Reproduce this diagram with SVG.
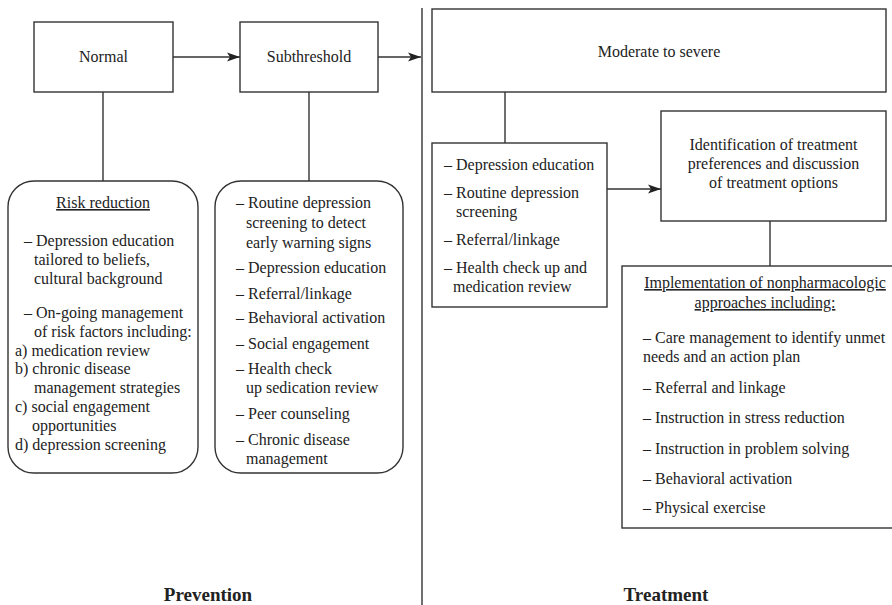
<svg xmlns="http://www.w3.org/2000/svg" width="892" height="605" viewBox="0 0 892 605">
<defs>
<marker id="ah" markerWidth="14" markerHeight="10" refX="13" refY="5" orient="auto" markerUnits="userSpaceOnUse">
<path d="M0,0.5 L13,5 L0,9.5 L3,5 Z" fill="#222"/>
</marker>
<style>
.box{fill:#fff;stroke:#333;stroke-width:1.4}
.ln{stroke:#333;stroke-width:1.4;fill:none}
text{font-family:"Liberation Serif","Times New Roman",serif;font-size:16px;fill:#222}
.c{text-anchor:middle}
.u{text-decoration:underline}
.lab{font-weight:bold;font-size:19px}
</style>
</defs>
<rect width="892" height="605" fill="#fff"/>
<g id="connectors">
<line class="ln" x1="422" y1="8" x2="422" y2="605"/>
<line class="ln" x1="173" y1="57" x2="240" y2="57" marker-end="url(#ah)"/>
<line class="ln" x1="378" y1="57" x2="421" y2="57" marker-end="url(#ah)"/>
<line class="ln" x1="607" y1="189" x2="661" y2="189" marker-end="url(#ah)"/>
<line class="ln" x1="103" y1="92" x2="103" y2="181"/>
<line class="ln" x1="309" y1="92" x2="309" y2="181"/>
<line class="ln" x1="505" y1="92" x2="505" y2="143"/>
<line class="ln" x1="770" y1="221" x2="770" y2="266"/>
</g>
<g id="normal">
<rect class="box" x="34" y="22" width="139" height="70"/>
<text class="c" x="103.5" y="62">Normal</text>
</g>
<g id="subthreshold">
<rect class="box" x="240" y="22" width="138" height="70"/>
<text class="c" x="309" y="62">Subthreshold</text>
</g>
<g id="moderate">
<rect class="box" x="432" y="9" width="454" height="83"/>
<text class="c" x="659" y="57">Moderate to severe</text>
</g>
<g id="risk">
<rect class="box" x="8" y="181" width="190" height="292" rx="26"/>
<text class="c u" x="103" y="208">Risk reduction</text>
<text x="24" y="246">– Depression education</text>
<text x="34" y="265">tailored to beliefs,</text>
<text x="34" y="284">cultural background</text>
<text x="24" y="318">– On-going management</text>
<text x="34" y="337">of risk factors including:</text>
<text x="15" y="356">a) medication review</text>
<text x="15" y="374">b) chronic disease</text>
<text x="34" y="393">management strategies</text>
<text x="15" y="412">c) social engagement</text>
<text x="32" y="431">opportunities</text>
<text x="15" y="450">d) depression screening</text>
</g>
<g id="subthreshold-actions">
<rect class="box" x="215" y="181" width="188" height="292" rx="26"/>
<text x="236" y="208">– Routine depression</text>
<text x="246" y="228">screening to detect</text>
<text x="246" y="248">early warning signs</text>
<text x="236" y="273">– Depression education</text>
<text x="236" y="299">– Referral/linkage</text>
<text x="236" y="323">– Behavioral activation</text>
<text x="236" y="349">– Social engagement</text>
<text x="236" y="374">– Health check</text>
<text x="246" y="393">up sedication review</text>
<text x="236" y="419">– Peer counseling</text>
<text x="236" y="445">– Chronic disease</text>
<text x="246" y="464">management</text>
</g>
<g id="treatment-actions">
<rect class="box" x="432" y="143" width="175" height="164"/>
<text x="444" y="170">– Depression education</text>
<text x="444" y="198">– Routine depression</text>
<text x="456" y="217">screening</text>
<text x="444" y="245">– Referral/linkage</text>
<text x="444" y="273">– Health check up and</text>
<text x="453" y="292">medication review</text>
</g>
<g id="identification">
<rect class="box" x="661" y="111" width="225" height="110"/>
<text class="c" x="773.5" y="150">Identification of treatment</text>
<text class="c" x="773.5" y="169">preferences and discussion</text>
<text class="c" x="773.5" y="188">of treatment options</text>
</g>
<g id="implementation">
<rect class="box" x="622" y="266" width="290" height="262"/>
<text class="c u" x="765" y="288">Implementation of nonpharmacologic</text>
<text class="c u" x="765" y="308">approaches including:</text>
<text x="643" y="343">– Care management to identify unmet</text>
<text x="643" y="362">needs and an action plan</text>
<text x="643" y="393">– Referral and linkage</text>
<text x="643" y="423">– Instruction in stress reduction</text>
<text x="643" y="454">– Instruction in problem solving</text>
<text x="643" y="484">– Behavioral activation</text>
<text x="643" y="513">– Physical exercise</text>
</g>
<g id="labels">
<text class="c lab" x="208" y="601">Prevention</text>
<text class="c lab" x="666" y="601">Treatment</text>
</g>
</svg>
